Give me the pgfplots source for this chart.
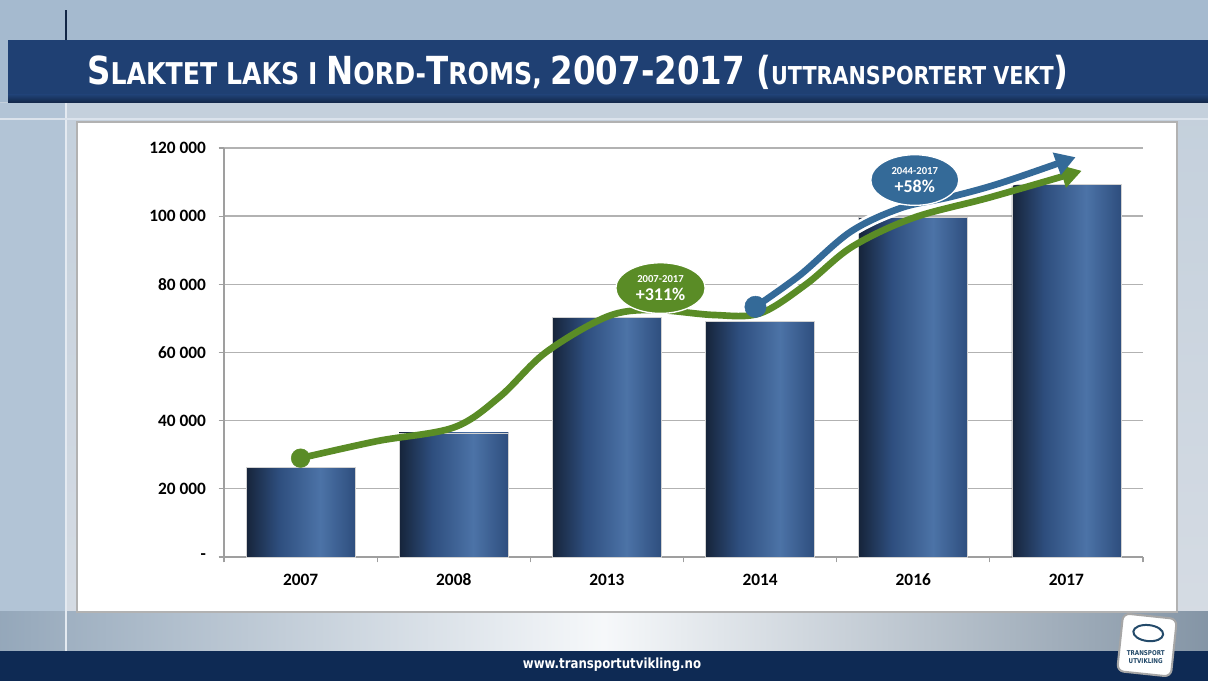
\documentclass[border=0pt]{standalone}
\usepackage{pgfplots}
\pgfplotsset{compat=1.18}
\usepackage{fontspec}
\setmainfont{Carlito}
\newfontfamily\tahoma{DejaVu Sans}[FakeStretch=0.84]
\usetikzlibrary{arrows.meta,shapes.geometric}
\definecolor{titlebar}{RGB}{31,64,115}
\definecolor{titledark}{RGB}{18,38,70}
\definecolor{footer}{RGB}{14,42,84}
\definecolor{bgtop}{RGB}{165,186,207}
\definecolor{bgmid}{RGB}{196,208,220}
\definecolor{bglow}{RGB}{214,220,228}
\definecolor{lgreen}{RGB}{90,140,38}
\definecolor{lblue}{RGB}{52,106,152}
\definecolor{bardark}{RGB}{22,36,58}
\definecolor{barmid}{RGB}{76,115,167}
\definecolor{barright}{RGB}{46,78,126}
\pgfdeclarehorizontalshading{barshade}{100bp}{color(0bp)=(bardark); color(25bp)=(bardark); color(40bp)=(barright); color(59bp)=(barmid); color(75bp)=(barright); color(100bp)=(barright)}
\pgfplotsset{mybar/.style={ybar, bar shift=0pt, bar width=81.75pt, shading=barshade, draw=gray!35, line width=0.6pt}}
\begin{document}
\begin{tikzpicture}[x=0.75pt,y=0.75pt]
\useasboundingbox (0,0) rectangle (1208,681);
% background
\fill[bgtop] (0,0) rectangle (1208,681);
\shade[top color=bgmid, bottom color=bglow] (0,30) rectangle (1208,578);
\fill[bgtop!85!white] (0,69) rectangle (66,578);
\shade[left color=bgtop!90!black, right color=bgtop!80!black, middle color=white!90!bgtop] (0,30) rectangle (1208,69);
\fill[footer] (0,0) rectangle (1208,30);
\fill[titlebar] (8,578) rectangle (1208,641);
\shade[top color=titlebar, bottom color=titledark] (8,578) rectangle (1208,586);
\draw[titledark, line width=1.5pt] (66,641) -- (66,671);
\draw[white!70!bgtop, line width=1pt] (66,30) -- (66,578);
\draw[white!60!bgtop, line width=1pt] (0,562) -- (1208,562);
\fill[white] (77,69) rectangle (1177,559);
\draw[gray!60, line width=0.8pt] (77,69) rectangle (1177,559);
% title
\node[anchor=west, text=white, inner sep=0pt, font=\tahoma\bfseries] at (87,609)
 {\fontsize{29}{30}\selectfont S\fontsize{22.5}{24}\selectfont LAKTET LAKS I \fontsize{29}{30}\selectfont N\fontsize{22.5}{24}\selectfont ORD-\fontsize{29}{30}\selectfont T\fontsize{22.5}{24}\selectfont ROMS, \fontsize{29}{30}\selectfont 2007-2017 (\fontsize{18.5}{20}\selectfont UTTRANSPORTERT VEKT\fontsize{29}{30}\selectfont)};
% footer
\node[text=white, font=\tahoma\bfseries\fontsize{10.5}{12}\selectfont] at (612,16) {www.transportutvikling.no};
% logo
\begin{scope}[shift={(1147,36)}, rotate=-6]
\draw[gray!70, line width=1.5pt, fill=white, rounded corners=5pt] (-27,-29) rectangle (27,29);
\draw[lblue!70!black, line width=1.5pt] (0,12) ellipse (15 and 8);
\node[font=\tahoma\bfseries\fontsize{5}{6.5}\selectfont, text=lblue!70!black, align=center, inner sep=0pt] at (0,-12) {TRANSPORT\\UTVIKLING};
\end{scope}
\begin{axis}[at={(168pt,93pt)}, anchor=south west, scale only axis,
  width=689.25pt, height=306.75pt,
  xmin=-0.5, xmax=5.5, ymin=0, ymax=120000,
  clip=false,
  axis lines=left,
  axis line style={draw=gray!75, line width=1pt, -},
  ymajorgrids, grid style={gray!60, line width=1pt},
  scaled y ticks=false,
  ytick={0,20000,40000,60000,80000,100000,120000},
  yticklabels={-,20 000,40 000,60 000,80 000,100 000,120 000},
  xtick={0,...,5},
  xticklabels={2007,2008,2013,2014,2016,2017},
  minor xtick={-0.5,0.5,1.5,2.5,3.5,4.5,5.5},
  tick align=outside,
  major x tick style={draw=none},
  minor x tick style={draw=gray!75, line width=0.8pt},
  minor tick length=4pt,
  major y tick style={draw=gray!75, line width=0.8pt},
  major tick length=4pt,
  yticklabel style={font=\bfseries\fontsize{13}{13}\selectfont, xshift=-6pt},
  xticklabel style={font=\bfseries\fontsize{13}{13}\selectfont, yshift=-5pt, text height=9pt},
]
\addplot[mybar] coordinates {(0,26400)};
\addplot[mybar] coordinates {(1,36400)};
\addplot[mybar] coordinates {(2,70400)};
\addplot[mybar] coordinates {(3,69000)};
\addplot[mybar] coordinates {(4,99500)};
\addplot[mybar] coordinates {(5,109200)};
% green trend
\addplot[lgreen, line width=5pt, smooth, tension=0.55, -{Triangle[length=15pt,width=17pt]}]
 coordinates {(0,29000) (0.5,34000) (1,38000) (1.3,47000) (1.6,60000) (2,70500) (2.3,72500) (2.7,71000) (3,71500) (3.3,80000) (3.6,91000) (4,99500) (4.5,105500) (5.1,113300)};
\addplot[only marks, mark=*, mark size=7pt, lgreen] coordinates {(0,29000)};
% blue trend
\addplot[white, line width=9pt, smooth, tension=0.55] coordinates {(2.97,73400) (3.26,82700) (3.59,95400) (3.92,102400) (4.24,105600) (4.57,109700) (4.95,115200)};
\addplot[lblue, line width=5pt, smooth, tension=0.55, -{Triangle[length=15pt,width=17pt]}]
 coordinates {(2.97,73400) (3.26,82700) (3.59,95400) (3.92,102400) (4.24,105600) (4.57,109700) (5.06,117300)};
\addplot[only marks, mark=*, mark size=8pt, lblue] coordinates {(2.97,73400)};
% labels
\node[ellipse, fill=lgreen, draw=white, line width=1pt, minimum width=67pt, minimum height=38pt, inner sep=0pt, text=white, align=center] at (axis cs:2.35,78900)
 {{\bfseries\fontsize{8}{8}\selectfont 2007-2017}\\[1pt]{\bfseries\fontsize{13.5}{13.5}\selectfont +311\%}};
\node[ellipse, fill=lblue, draw=white, line width=1pt, minimum width=66pt, minimum height=38pt, inner sep=0pt, text=white, align=center] at (axis cs:4.01,110600)
 {{\bfseries\fontsize{8}{8}\selectfont 2044-2017}\\[1pt]{\bfseries\fontsize{13.5}{13.5}\selectfont +58\%}};
\end{axis}
\end{tikzpicture}
\end{document}
